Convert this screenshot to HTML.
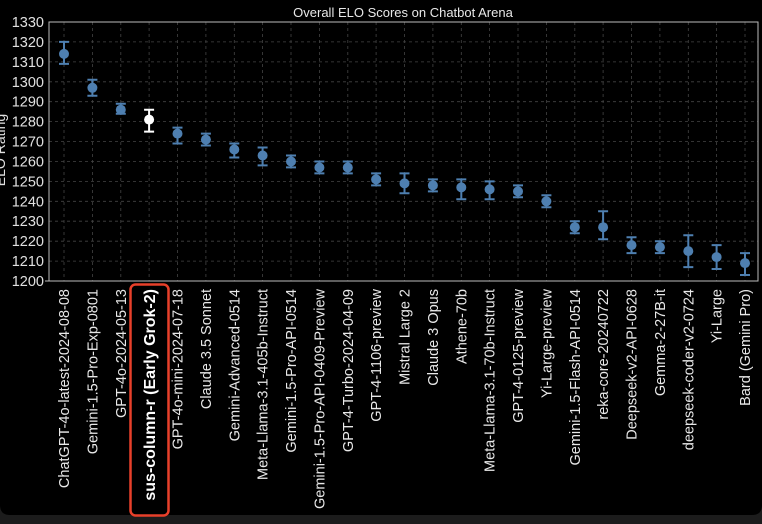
<!DOCTYPE html>
<html><head><meta charset="utf-8"><style>
html,body{margin:0;padding:0;background:#000;}
svg{display:block;font-family:"Liberation Sans",sans-serif;}
</style></head><body>
<svg width="762" height="524" viewBox="0 0 762 524" xmlns="http://www.w3.org/2000/svg">
<rect width="762" height="524" fill="#000"/>
<rect x="0" y="515" width="762" height="9" fill="#1c1c1c"/>
<path d="M0 505 Q0 515 10 515 L752 515 Q762 515 762 505 L762 524 L0 524Z" fill="#1c1c1c"/>
<text x="403" y="17" fill="#e8e8e8" font-size="13" text-anchor="middle">Overall ELO Scores on Chatbot Arena</text>
<g stroke="#444" stroke-width="0.8" stroke-dasharray="3,3">
<line x1="49" x2="758" y1="261.1" y2="261.1"/><line x1="49" x2="758" y1="241.2" y2="241.2"/><line x1="49" x2="758" y1="221.2" y2="221.2"/><line x1="49" x2="758" y1="201.3" y2="201.3"/><line x1="49" x2="758" y1="181.4" y2="181.4"/><line x1="49" x2="758" y1="161.5" y2="161.5"/><line x1="49" x2="758" y1="141.6" y2="141.6"/><line x1="49" x2="758" y1="121.6" y2="121.6"/><line x1="49" x2="758" y1="101.7" y2="101.7"/><line x1="49" x2="758" y1="81.8" y2="81.8"/><line x1="49" x2="758" y1="61.9" y2="61.9"/><line x1="49" x2="758" y1="41.9" y2="41.9"/>
<line y1="22" y2="281" x1="64" x2="64"/><line y1="22" y2="281" x1="92.4" x2="92.4"/><line y1="22" y2="281" x1="120.8" x2="120.8"/><line y1="22" y2="281" x1="149.1" x2="149.1"/><line y1="22" y2="281" x1="177.5" x2="177.5"/><line y1="22" y2="281" x1="205.9" x2="205.9"/><line y1="22" y2="281" x1="234.3" x2="234.3"/><line y1="22" y2="281" x1="262.6" x2="262.6"/><line y1="22" y2="281" x1="291" x2="291"/><line y1="22" y2="281" x1="319.4" x2="319.4"/><line y1="22" y2="281" x1="347.8" x2="347.8"/><line y1="22" y2="281" x1="376.1" x2="376.1"/><line y1="22" y2="281" x1="404.5" x2="404.5"/><line y1="22" y2="281" x1="432.9" x2="432.9"/><line y1="22" y2="281" x1="461.3" x2="461.3"/><line y1="22" y2="281" x1="489.6" x2="489.6"/><line y1="22" y2="281" x1="518" x2="518"/><line y1="22" y2="281" x1="546.4" x2="546.4"/><line y1="22" y2="281" x1="574.8" x2="574.8"/><line y1="22" y2="281" x1="603.1" x2="603.1"/><line y1="22" y2="281" x1="631.5" x2="631.5"/><line y1="22" y2="281" x1="659.9" x2="659.9"/><line y1="22" y2="281" x1="688.3" x2="688.3"/><line y1="22" y2="281" x1="716.6" x2="716.6"/><line y1="22" y2="281" x1="745" x2="745"/>
</g>
<rect x="49" y="22" width="709" height="259" fill="none" stroke="#bbb" stroke-width="1"/>
<g fill="#e0e0e0" font-size="14.5" text-anchor="end">
<text x="44" y="286">1200</text><text x="44" y="266.1">1210</text><text x="44" y="246.2">1220</text><text x="44" y="226.2">1230</text><text x="44" y="206.3">1240</text><text x="44" y="186.4">1250</text><text x="44" y="166.5">1260</text><text x="44" y="146.6">1270</text><text x="44" y="126.6">1280</text><text x="44" y="106.7">1290</text><text x="44" y="86.8">1300</text><text x="44" y="66.9">1310</text><text x="44" y="46.9">1320</text><text x="44" y="27">1330</text>
</g>
<g stroke="#bbb"><line x1="45" x2="49" y1="281" y2="281"/></g>
<text transform="translate(5,150) rotate(-90)" fill="#e0e0e0" font-size="14" text-anchor="middle">ELO Rating</text>
<g stroke="#4e7fb0" stroke-width="2" fill="none">
<path d="M64 41.9V63.9M59 41.9H69M59 63.9H69"/>
<path d="M92.4 79.8V95.7M87.4 79.8H97.4M87.4 95.7H97.4"/>
<path d="M120.8 103.7V113.7M115.8 103.7H125.8M115.8 113.7H125.8"/>
<path d="M177.5 127.6V143.5M172.5 127.6H182.5M172.5 143.5H182.5"/>
<path d="M205.9 133.6V145.5M200.9 133.6H210.9M200.9 145.5H210.9"/>
<path d="M234.3 143.5V157.5M229.3 143.5H239.3M229.3 157.5H239.3"/>
<path d="M262.6 147.5V165.4M257.6 147.5H267.6M257.6 165.4H267.6"/>
<path d="M291 155.5V167.4M286 155.5H296M286 167.4H296"/>
<path d="M319.4 161.5V173.4M314.4 161.5H324.4M314.4 173.4H324.4"/>
<path d="M347.8 161.5V173.4M342.8 161.5H352.8M342.8 173.4H352.8"/>
<path d="M376.1 173.4V185.4M371.1 173.4H381.1M371.1 185.4H381.1"/>
<path d="M404.5 173.4V193.3M399.5 173.4H409.5M399.5 193.3H409.5"/>
<path d="M432.9 179.4V191.4M427.9 179.4H437.9M427.9 191.4H437.9"/>
<path d="M461.3 179.4V199.3M456.3 179.4H466.3M456.3 199.3H466.3"/>
<path d="M489.6 181.4V199.3M484.6 181.4H494.6M484.6 199.3H494.6"/>
<path d="M518 185.4V197.3M513 185.4H523M513 197.3H523"/>
<path d="M546.4 195.3V207.3M541.4 195.3H551.4M541.4 207.3H551.4"/>
<path d="M574.8 221.2V233.2M569.8 221.2H579.8M569.8 233.2H579.8"/>
<path d="M603.1 211.3V239.2M598.1 211.3H608.1M598.1 239.2H608.1"/>
<path d="M631.5 237.2V253.1M626.5 237.2H636.5M626.5 253.1H636.5"/>
<path d="M659.9 241.2V253.1M654.9 241.2H664.9M654.9 253.1H664.9"/>
<path d="M688.3 235.2V267.1M683.3 235.2H693.3M683.3 267.1H693.3"/>
<path d="M716.6 245.1V269M711.6 245.1H721.6M711.6 269H721.6"/>
<path d="M745 253.1V275M740 253.1H750M740 275H750"/>
</g>
<g fill="#4e7fb0">
<circle cx="64" cy="53.9" r="5"/><circle cx="92.4" cy="87.8" r="5"/><circle cx="120.8" cy="109.7" r="5"/><circle cx="177.5" cy="133.6" r="5"/><circle cx="205.9" cy="139.6" r="5"/><circle cx="234.3" cy="149.5" r="5"/><circle cx="262.6" cy="155.5" r="5"/><circle cx="291" cy="161.5" r="5"/><circle cx="319.4" cy="167.5" r="5"/><circle cx="347.8" cy="167.5" r="5"/><circle cx="376.1" cy="179.4" r="5"/><circle cx="404.5" cy="183.4" r="5"/><circle cx="432.9" cy="185.4" r="5"/><circle cx="461.3" cy="187.4" r="5"/><circle cx="489.6" cy="189.4" r="5"/><circle cx="518" cy="191.4" r="5"/><circle cx="546.4" cy="201.3" r="5"/><circle cx="574.8" cy="227.2" r="5"/><circle cx="603.1" cy="227.2" r="5"/><circle cx="631.5" cy="245.1" r="5"/><circle cx="659.9" cy="247.1" r="5"/><circle cx="688.3" cy="251.1" r="5"/><circle cx="716.6" cy="257.1" r="5"/><circle cx="745" cy="263.1" r="5"/>
</g>
<path d="M149.1 109.7V131.6M144.1 109.7H154.1M144.1 131.6H154.1" stroke="#fff" stroke-width="2" fill="none"/>
<circle cx="149.1" cy="119.6" r="5" fill="#fff"/>
<g fill="#e8e8e8" font-size="14.5" text-anchor="end">
<text transform="translate(69,289) rotate(-90)">ChatGPT-4o-latest-2024-08-08</text>
<text transform="translate(97.4,289) rotate(-90)">Gemini-1.5-Pro-Exp-0801</text>
<text transform="translate(125.8,289) rotate(-90)">GPT-4o-2024-05-13</text>
<text transform="translate(155,289) rotate(-90)" font-weight="bold" font-size="16" fill="#fff">sus-column-r (Early Grok-2)</text>
<text transform="translate(182.5,289) rotate(-90)">GPT-4o-mini-2024-07-18</text>
<text transform="translate(210.9,289) rotate(-90)">Claude 3.5 Sonnet</text>
<text transform="translate(239.3,289) rotate(-90)">Gemini-Advanced-0514</text>
<text transform="translate(267.6,289) rotate(-90)">Meta-Llama-3.1-405b-Instruct</text>
<text transform="translate(296,289) rotate(-90)">Gemini-1.5-Pro-API-0514</text>
<text transform="translate(324.4,289) rotate(-90)">Gemini-1.5-Pro-API-0409-Preview</text>
<text transform="translate(352.8,289) rotate(-90)">GPT-4-Turbo-2024-04-09</text>
<text transform="translate(381.1,289) rotate(-90)">GPT-4-1106-preview</text>
<text transform="translate(409.5,289) rotate(-90)">Mistral Large 2</text>
<text transform="translate(437.9,289) rotate(-90)">Claude 3 Opus</text>
<text transform="translate(466.3,289) rotate(-90)">Athene-70b</text>
<text transform="translate(494.6,289) rotate(-90)">Meta-Llama-3.1-70b-Instruct</text>
<text transform="translate(523,289) rotate(-90)">GPT-4-0125-preview</text>
<text transform="translate(551.4,289) rotate(-90)">Yi-Large-preview</text>
<text transform="translate(579.8,289) rotate(-90)">Gemini-1.5-Flash-API-0514</text>
<text transform="translate(608.1,289) rotate(-90)">reka-core-20240722</text>
<text transform="translate(636.5,289) rotate(-90)">Deepseek-v2-API-0628</text>
<text transform="translate(664.9,289) rotate(-90)">Gemma-2-27B-it</text>
<text transform="translate(693.3,289) rotate(-90)">deepseek-coder-v2-0724</text>
<text transform="translate(721.6,289) rotate(-90)">Yi-Large</text>
<text transform="translate(750,289) rotate(-90)">Bard (Gemini Pro)</text>
</g>
<rect x="130.5" y="284.5" width="38" height="231" rx="5" fill="none" stroke="#e8402a" stroke-width="2.5"/>
</svg>
</body></html>
